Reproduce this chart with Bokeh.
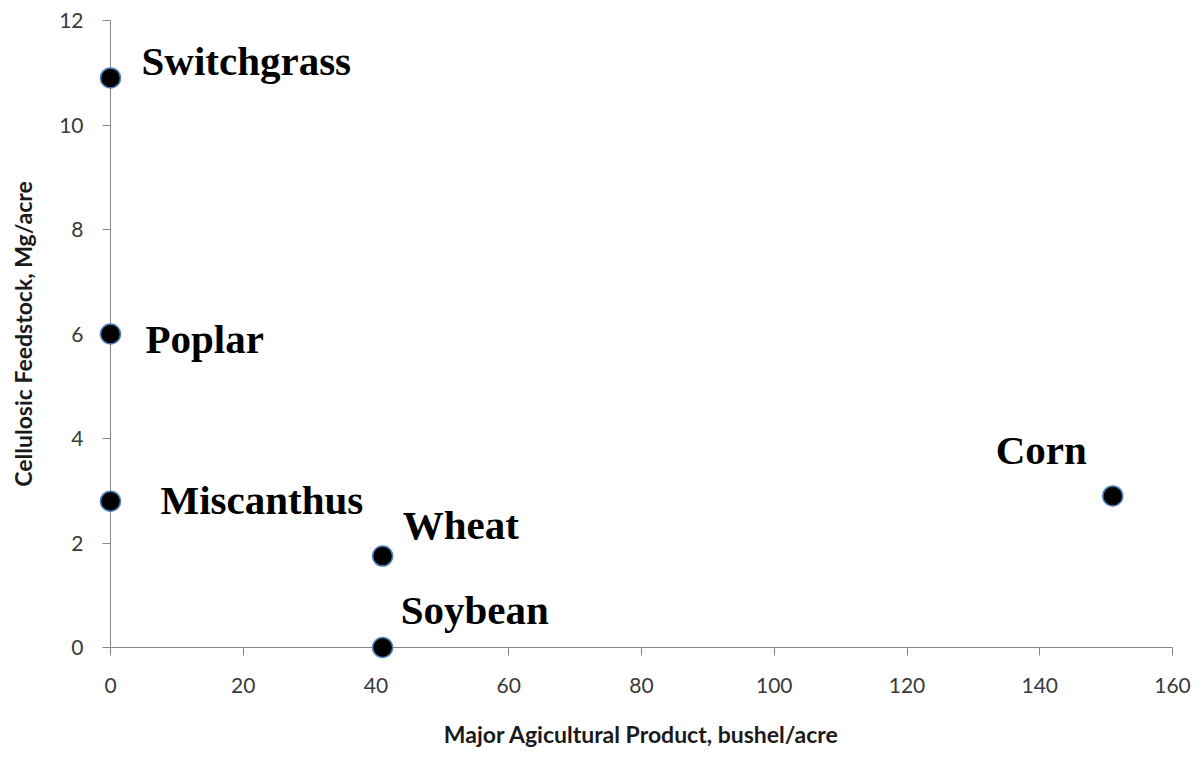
from bokeh.plotting import figure
from bokeh.models import Range1d, ColumnDataSource, FixedTicker
from bokeh.core.properties import value
from bokeh.embed import file_html
from bokeh.resources import INLINE

# ---- data ----
crops = ["Switchgrass", "Poplar", "Miscanthus", "Wheat", "Soybean", "Corn"]
ag_product = [0, 0, 0, 41, 41, 151]          # bushel/acre
feedstock = [10.9, 6.0, 2.8, 1.75, 0.0, 2.9]  # Mg/acre

x_ticks = [0, 20, 40, 60, 80, 100, 120, 140, 160]
y_ticks = [0, 2, 4, 6, 8, 10, 12]

# label placement (pixel offsets from each point)
label_dx = [31, 35, 50, 20, 18, -117]
label_dy = [-17, 5, -1, -31, -38, -46]

src = ColumnDataSource(dict(x=ag_product, y=feedstock, name=crops,
                            dx=label_dx, dy=label_dy))

p = figure(frame_width=1062, frame_height=627,
           x_range=Range1d(0, 160), y_range=Range1d(0, 12),
           output_backend="svg", toolbar_location=None,
           min_border_left=110, min_border_top=20, min_border_right=24,
           min_border_bottom=0)
p.outline_line_color = None
p.grid.visible = False
p.background_fill_color = "white"
p.border_fill_color = "white"

axis_col = "#868686"
for ax in (p.xaxis[0], p.yaxis[0]):
    ax.axis_line_color = axis_col
    ax.axis_line_width = 1
    ax.major_tick_line_color = axis_col
    ax.major_tick_in = 0
    ax.major_tick_out = 8
    ax.minor_tick_line_color = None
    ax.major_label_text_font = "Lato"
    ax.major_label_text_font_size = "21px"
    ax.major_label_text_color = "#3a3a3a"
    ax.axis_label_text_font = "Lato"
    ax.axis_label_text_font_style = "bold"
    ax.axis_label_text_font_size = "23px"
    ax.axis_label_text_color = "#1a1a1a"

p.xaxis[0].ticker = FixedTicker(ticks=x_ticks)
p.yaxis[0].ticker = FixedTicker(ticks=y_ticks)
p.xaxis[0].axis_label = "Major Agicultural Product, bushel/acre"
p.yaxis[0].axis_label = "Cellulosic Feedstock, Mg/acre"
p.xaxis[0].major_label_standoff = 22
p.yaxis[0].major_label_standoff = 19
p.xaxis[0].axis_label_standoff = 24
p.yaxis[0].axis_label_standoff = 19

p.scatter("x", "y", source=src, size=20, marker="circle",
          fill_color="black", line_color="#4f81bd", line_width=1.5,
          level="overlay")

p.text("x", "y", text="name", source=src, x_offset="dx", y_offset="dy",
       text_font=value("Liberation Serif"), text_font_style="bold",
       text_font_size="41px", text_color="black",
       text_align="left", text_baseline="alphabetic")

open("out.html", "w").write(file_html(p, INLINE))
